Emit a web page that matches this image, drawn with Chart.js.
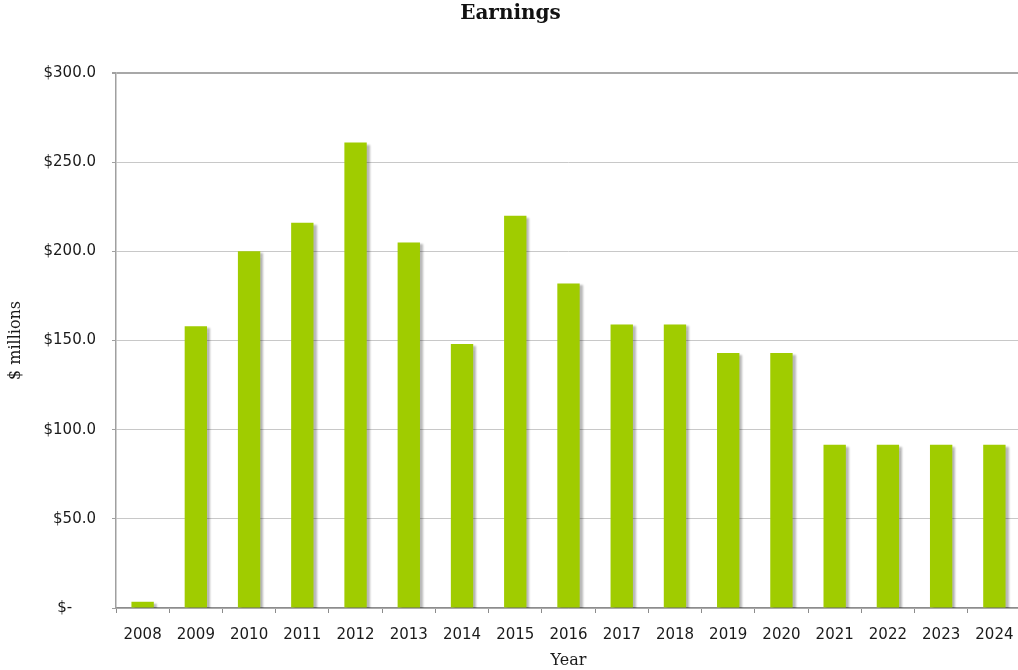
<!DOCTYPE html>
<html>
<head>
<meta charset="utf-8">
<title>Earnings</title>
<script src="https://cdn.jsdelivr.net/npm/chart.js@4"></script>
<style>
    html, body { margin: 0; padding: 0; background: #fff; overflow: hidden; }
    #wrap { position: relative; width: 1024px; height: 670px; }
</style>
</head>
<body>
<div id="wrap"><canvas id="earnings"></canvas></div>
<script>
const YEARS = ['2008', '2009', '2010', '2011', '2012', '2013', '2014', '2015', '2016',
               '2017', '2018', '2019', '2020', '2021', '2022', '2023', '2024'];
// $ millions
const EARNINGS = [3.5, 158, 200, 216, 261, 205, 148, 220, 182,
                  159, 159, 143, 143, 91.5, 91.5, 91.5, 91.5];
const Y_MIN = 0;
const Y_MAX = 300;
const Y_STEP = 50;

const BAR_GREEN = '#a0cc00';

/**
 * Accounting style money label, zero shows as a dash.
 */
function moneyLabel(value) {
    if (value === 0) return '$-     ';
    return '$' + value.toFixed(1);
}

// Soft drop shadow behind the bars
const barShadow = {
    id: 'barShadow',
    beforeDatasetsDraw(chart) {
        const ctx = chart.ctx;
        ctx.save();
        ctx.shadowColor = 'rgba(0, 0, 0, 0.28)';
        ctx.shadowBlur = 2;
        ctx.shadowOffsetX = 3;
        ctx.shadowOffsetY = 2;
    },
    afterDatasetsDraw(chart) {
        chart.ctx.restore();
    }
};

const config = {
    type: 'bar',
    data: {
        labels: YEARS,
        datasets: [{
            label: 'Earnings',
            data: EARNINGS,
            backgroundColor: BAR_GREEN,
            borderWidth: 0,
            categoryPercentage: 1,
            barPercentage: 0.42
        }]
    },
    plugins: [barShadow],
    options: {
        responsive: true,
        maintainAspectRatio: false,
        animation: false,
        layout: { padding: { left: 0, right: 3, top: 0, bottom: 0 } },
        plugins: {
            legend: { display: false },
            tooltip: { enabled: false },
            title: {
                display: true,
                text: 'Earnings',
                color: '#111',
                font: { family: 'DejaVu Serif', size: 20, weight: 'bold' },
                padding: { top: 2, bottom: 47 }
            }
        },
        scales: {
            x: {
                grid: {
                    display: true,
                    drawOnChartArea: false,
                    drawTicks: true,
                    tickLength: 5,
                    color: '#8c8c8c'
                },
                border: { display: true, color: '#8c8c8c', width: 1.5 },
                ticks: {
                    color: '#1a1a1a',
                    font: { family: 'DejaVu Sans', size: 15 },
                    padding: 13,
                    maxRotation: 0,
                    autoSkip: false
                },
                title: {
                    display: true,
                    text: 'Year',
                    color: '#1a1a1a',
                    font: { family: 'DejaVu Serif', size: 16 },
                    padding: { top: 0, bottom: 0 }
                },
                afterFit(scale) {
                    scale.height = 62;
                    // labels sit inside their categories, no extra room needed at the ends
                    scale.paddingLeft = 0;
                    scale.paddingRight = 0;
                }
            },
            y: {
                min: Y_MIN,
                max: Y_MAX,
                grid: {
                    color: (c) => c.tick && c.tick.value === Y_MAX ? '#a8a8a8' : '#c8c8c8',
                    lineWidth: (c) => c.tick && c.tick.value === Y_MAX ? 2 : 1,
                    tickLength: 4,
                    tickColor: '#a0a0a0'
                },
                border: { display: true, color: '#a0a0a0', width: 1.5 },
                ticks: {
                    stepSize: Y_STEP,
                    color: '#1a1a1a',
                    font: { family: 'DejaVu Sans', size: 15 },
                    padding: 16,
                    callback: (value) => moneyLabel(value)
                },
                title: {
                    display: true,
                    text: '$ millions',
                    color: '#1a1a1a',
                    font: { family: 'DejaVu Serif', size: 16 },
                    padding: { top: 6, bottom: 0 }
                },
                afterFit(scale) { scale.width = 116; }
            }
        }
    }
};

new Chart(document.getElementById('earnings'), config);
</script>
</body>
</html>
